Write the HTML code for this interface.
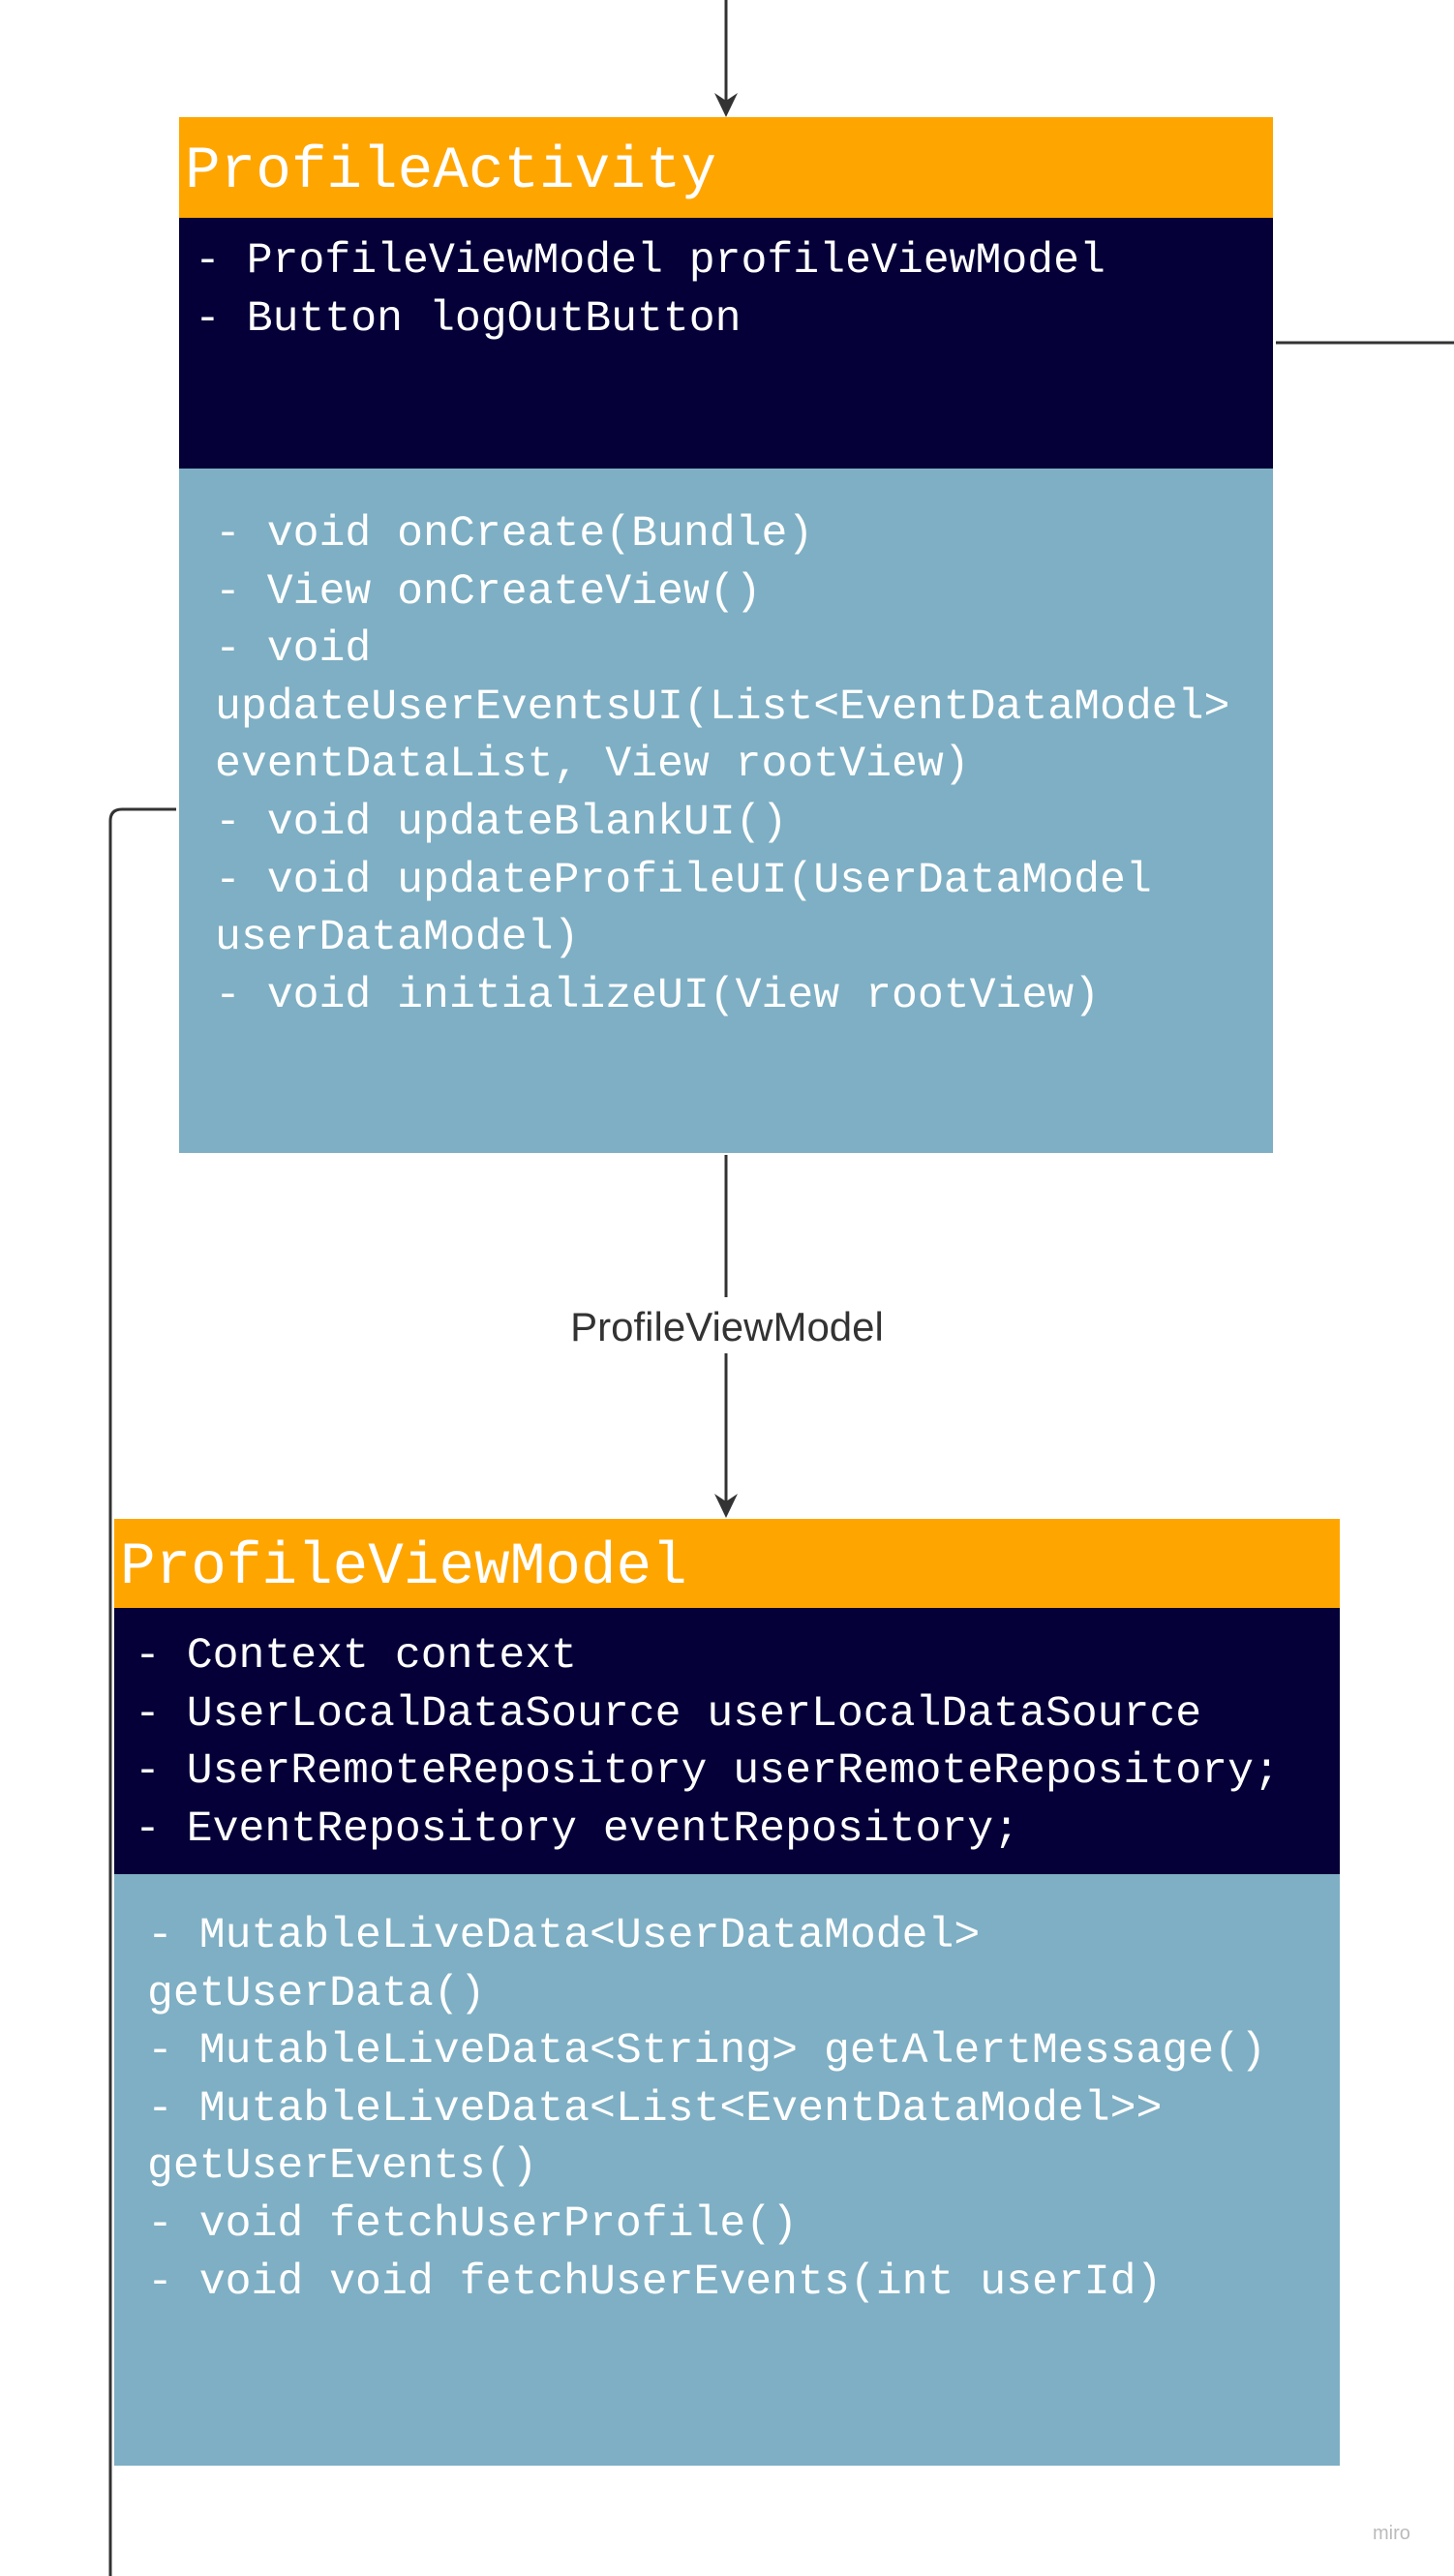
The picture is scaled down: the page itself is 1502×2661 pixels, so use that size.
<!DOCTYPE html>
<html><head><meta charset="utf-8"><style>
html,body{margin:0;padding:0;background:#fff;}
body{width:1502px;height:2661px;position:relative;overflow:hidden;}
.r{position:absolute;}
.t{position:absolute;font-family:"Liberation Mono",monospace;color:#fff;white-space:pre;}
.h{font-size:61px;line-height:70px;}
.b{font-size:44.8px;line-height:59.6px;}
</style></head><body>
<svg class="r" style="left:0;top:0" width="1502" height="2661">
<g stroke="#333" stroke-width="3" fill="none">
<line x1="750" y1="0" x2="750" y2="112"/>
<line x1="1318" y1="354" x2="1502" y2="354"/>
<path d="M182 836 H126 Q114 836 114 848 V2661"/>
<line x1="750" y1="1193" x2="750" y2="1340"/>
<line x1="750" y1="1398" x2="750" y2="1560"/>
</g>
<path d="M738 96 L750 121 L762 96 L750 104 Z" fill="#333"/>
<path d="M738 1543 L750 1568 L762 1543 L750 1551 Z" fill="#333"/>
</svg>
<div class="r" style="left:185px;top:121px;width:1130px;height:104px;background:#FFA500"></div>
<div class="r" style="left:185px;top:225px;width:1130px;height:259px;background:#050038"></div>
<div class="r" style="left:185px;top:484px;width:1130px;height:707px;background:#7EAFC4"></div>
<div class="t h" style="left:191px;top:143px">ProfileActivity</div>
<div class="t b" style="left:201px;top:241px">- ProfileViewModel profileViewModel
- Button logOutButton</div>
<div class="t b" style="left:222px;top:523px">- void onCreate(Bundle)
- View onCreateView()
- void
updateUserEventsUI(List&lt;EventDataModel&gt;
eventDataList, View rootView)
- void updateBlankUI()
- void updateProfileUI(UserDataModel
userDataModel)
- void initializeUI(View rootView)</div>
<div class="r" style="left:0;width:1502px;top:1346px;text-align:center;font-family:'Liberation Sans',sans-serif;font-size:42px;line-height:50px;color:#333">ProfileViewModel</div>
<div class="r" style="left:118px;top:1569px;width:1266px;height:92px;background:#FFA500"></div>
<div class="r" style="left:118px;top:1661px;width:1266px;height:275px;background:#050038"></div>
<div class="r" style="left:118px;top:1936px;width:1266px;height:611px;background:#7EAFC4"></div>
<div class="t h" style="left:124px;top:1585px">ProfileViewModel</div>
<div class="t b" style="left:139px;top:1682px">- Context context
- UserLocalDataSource userLocalDataSource
- UserRemoteRepository userRemoteRepository;
- EventRepository eventRepository;</div>
<div class="t b" style="left:152px;top:1971px">- MutableLiveData&lt;UserDataModel&gt;
getUserData()
- MutableLiveData&lt;String&gt; getAlertMessage()
- MutableLiveData&lt;List&lt;EventDataModel&gt;&gt;
getUserEvents()
- void fetchUserProfile()
- void void fetchUserEvents(int userId)</div>
<div class="r" style="left:1418px;top:2606px;font-family:'Liberation Sans',sans-serif;font-size:20px;color:#bbb">miro</div>
</body></html>
